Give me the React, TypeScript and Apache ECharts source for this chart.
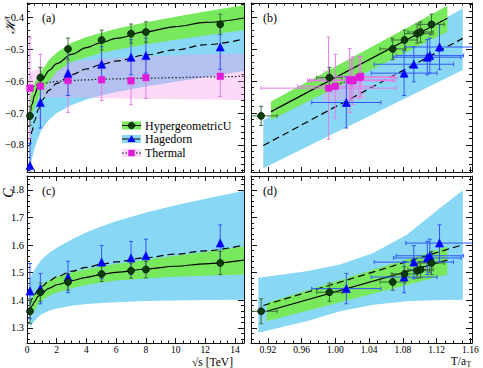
import React, { useEffect, useRef } from "react";
import * as echarts from "echarts";

// ---------------- data ----------------
const sqrtS = [0.2, 0.9, 2.76, 5.02, 7, 8, 13];
const hypH = [-0.709, -0.589, -0.499, -0.471, -0.451, -0.446, -0.422];
const hypHErr = [0.03, 0.032, 0.034, 0.031, 0.03, 0.032, 0.032];
const hagH = [-0.865, -0.667, -0.575, -0.547, -0.525, -0.52, -0.493];
const hagHErr = [0.07, 0.08, 0.07, 0.055, 0.055, 0.055, 0.07];
const thH = [-0.622, -0.616, -0.598, -0.596, -0.599, -0.589, -0.585];
const thHErr = [0.16, 0.1, 0.1, 0.065, 0.075, 0.065, 0.063];

const hypT = [0.912, 0.993, 1.068, 1.082, 1.097, 1.101, 1.114];
const hypTErr = [0.019, 0.015, 0.015, 0.015, 0.015, 0.015, 0.015];
const hagT = [null, 1.013, 1.0815, 1.093, 1.109, 1.112, 1.1235];
const hagTErr = [null, 0.041, 0.039, 0.047, 0.04, 0.04, 0.04];
const thT = [0.992, 1.0, 1.017, 1.019, 1.021, 1.028, 1.03];
const thTErr = [0.08, 0.045, 0.05, 0.05, 0.05, 0.045, 0.04];

const hypC = [1.36, 1.429, 1.466, 1.495, 1.507, 1.511, 1.535];
const hypCErr = [0.045, 0.033, 0.03, 0.027, 0.027, 0.03, 0.042];
const hagC = [1.433, 1.442, 1.484, 1.538, 1.553, 1.561, 1.607];
const hagCErr = [0.1, 0.055, 0.057, 0.06, 0.06, 0.06, 0.066];

// fitted curves / bands (a) and (c)
const cx = [0.2, 0.35, 0.5, 0.75, 1, 1.5, 2, 3, 4, 5, 6, 8, 10, 12, 14.6];
const hypCurveH = [-0.71, -0.672, -0.645, -0.617, -0.595, -0.566, -0.545, -0.516, -0.495, -0.479, -0.466, -0.445, -0.429, -0.416, -0.402];
const hypBandHiH = [-0.655, -0.628, -0.607, -0.584, -0.566, -0.533, -0.51, -0.48, -0.462, -0.448, -0.436, -0.415, -0.398, -0.382, -0.362];
const hypBandLoH = [-0.73, -0.703, -0.682, -0.655, -0.632, -0.6, -0.57, -0.54, -0.525, -0.512, -0.502, -0.485, -0.47, -0.457, -0.44];
const hagCurveH = [-0.8, -0.755, -0.725, -0.69, -0.66, -0.628, -0.607, -0.58, -0.562, -0.548, -0.537, -0.518, -0.502, -0.486, -0.468];
const hagBandHiH = [-0.72, -0.672, -0.643, -0.607, -0.578, -0.545, -0.523, -0.494, -0.475, -0.461, -0.45, -0.432, -0.416, -0.402, -0.385];
const hagBandLoH = [-0.875, -0.84, -0.812, -0.778, -0.75, -0.72, -0.7, -0.675, -0.658, -0.645, -0.634, -0.617, -0.602, -0.588, -0.568];
const thCurveH = [-0.625, -0.619, -0.615, -0.611, -0.608, -0.604, -0.601, -0.598, -0.596, -0.594, -0.593, -0.591, -0.589, -0.587, -0.585];
const thBandHiH = [-0.575, -0.57, -0.567, -0.562, -0.558, -0.552, -0.547, -0.54, -0.535, -0.531, -0.528, -0.523, -0.519, -0.516, -0.513];
const thBandLoH = [-0.655, -0.654, -0.653, -0.652, -0.652, -0.651, -0.651, -0.651, -0.652, -0.653, -0.654, -0.656, -0.657, -0.658, -0.66];

const hypCurveC = [1.36, 1.38, 1.394, 1.414, 1.427, 1.444, 1.456, 1.471, 1.483, 1.493, 1.501, 1.513, 1.523, 1.532, 1.545];
const hypBandHiC = [1.39, 1.41, 1.423, 1.442, 1.455, 1.472, 1.485, 1.5, 1.512, 1.522, 1.531, 1.547, 1.561, 1.575, 1.595];
const hypBandLoC = [1.33, 1.35, 1.364, 1.385, 1.399, 1.416, 1.428, 1.443, 1.455, 1.464, 1.471, 1.479, 1.485, 1.489, 1.493];
const hagCurveC = [1.384, 1.405, 1.42, 1.438, 1.45, 1.47, 1.485, 1.505, 1.519, 1.53, 1.539, 1.554, 1.567, 1.579, 1.6];
const hagBandHiC = [1.475, 1.495, 1.51, 1.53, 1.548, 1.572, 1.59, 1.62, 1.646, 1.667, 1.686, 1.718, 1.744, 1.768, 1.797];
const hagBandLoC = [1.3, 1.315, 1.325, 1.34, 1.35, 1.362, 1.37, 1.38, 1.386, 1.39, 1.393, 1.397, 1.399, 1.401, 1.402];

// linear fits in panels (b) and (d)
const tLineHyp = [0.9237, 1.1328];
const hLineHyp = [-0.6956, -0.403];
const hBandHiHypB = [-0.664, -0.364];
const hBandLoHypB = [-0.722, -0.445];
const tLineHag = [0.9146, 1.151];
const hLineHag = [-0.802, -0.466];
const hBandHiHagB = [-0.722, -0.372];
const hBandLoHagB = [-0.873, -0.565];
const tLineTh = [0.99, 1.031];
const hLineTh = [-0.622, -0.585];
const tBandTh = [0.985, 1.035];
const hBandHiThB = [-0.565, -0.55];
const hBandLoThB = [-0.665, -0.655];

const tLineHypD = [0.9186, 1.1328];
const cLineHyp = [1.36, 1.545];
const cBandHiHypD = [1.39, 1.595];
const cBandLoHypD = [1.324, 1.493];
const cLineHag = [1.381, 1.601];
const tBandHagD = [0.9087, 0.966, 1.0056, 1.045, 1.0847, 1.1242, 1.1511];
const cBandHiHagD = [1.481, 1.505, 1.529, 1.571, 1.637, 1.734, 1.798];
const cBandLoHagD = [1.282, 1.324, 1.36, 1.384, 1.396, 1.401, 1.402];

// ticks
const xMajorS = [0, 2, 4, 6, 8, 10, 12, 14];
const xMajorT = [0.92, 0.96, 1.0, 1.04, 1.08, 1.12, 1.16];
const yMajorH = [-0.8, -0.7, -0.6, -0.5, -0.4];
const yMajorC = [1.3, 1.4, 1.5, 1.6, 1.7, 1.8];

const legendLabels = ["HypergeometricU", "Hagedorn", "Thermal"];
const panelLabels = ["(a)", "(b)", "(c)", "(d)"];
const yTitles = ["\u210B", "C"];
const xTitleS = "\u221As [TeV]";

// --------------- style ---------------
const FONT = "'Liberation Serif', 'DejaVu Serif', serif";
const GREEN_BAND = "#78e85c";
const CYAN_BAND = "#88d7f5";
const PINK_BAND = "rgba(245,160,235,0.4)";
const GREEN_PT = "#0b3d0b";
const GREEN_ERR = "#3d6d3d";
const BLUE_PT = "#0000ff";
const BLUE_ERR = "#3356ff";
const MAG_PT = "#e01cd8";
const MAG_ERR = "#e47ce8";

function range(a: number, b: number, step: number) {
  const out: number[] = [];
  const n = Math.round((b - a) / step);
  for (let i = 0; i <= n; i++) out.push(+(a + i * step).toFixed(6));
  return out;
}
const xMinorS = range(0, 14.5, 0.5);
const xMinorT = range(0.9, 1.16, 0.01);
const yMinorH = range(-0.88, -0.36, 0.02);
const yMinorC = range(1.26, 1.84, 0.02);

function makeAxes(dim: string, grid: number, min: number, max: number, major: number[], minor: number[], showLabels: boolean, fmt: any, fontSize: number, majLen: number, minLen: number, margin: number) {
  const pos = dim === "x" ? ["bottom", "top"] : ["left", "right"];
  const ls = { color: "#111", width: 1 };
  const arr: any[] = [];
  pos.forEach((p, k) => {
    arr.push({
      type: "value", gridIndex: grid, position: p, min, max,
      axisLine: { show: true, onZero: false, lineStyle: ls },
      axisTick: { show: true, inside: true, length: majLen, customValues: major, lineStyle: ls },
      axisLabel: { show: showLabels && k === 0, customValues: major, formatter: fmt, fontFamily: FONT, fontSize, color: "#000", margin },
      splitLine: { show: false },
    });
    arr.push({
      type: "value", gridIndex: grid, position: p, min, max,
      axisLine: { show: false, onZero: false },
      axisTick: { show: true, inside: true, length: minLen, customValues: minor, lineStyle: ls },
      axisLabel: { show: false },
      splitLine: { show: false },
    });
  });
  return arr;
}

function band(gi: number, xs: number[], lo: number[], hi: number[], fill: string, z: number) {
  return {
    type: "custom", xAxisIndex: gi * 4, yAxisIndex: gi * 4, z, silent: true, clip: true,
    data: [[xs[0], lo[0]]],
    renderItem: (params: any, api: any) => {
      const pts: number[][] = [];
      for (let i = 0; i < xs.length; i++) pts.push(api.coord([xs[i], hi[i]]));
      for (let i = xs.length - 1; i >= 0; i--) pts.push(api.coord([xs[i], lo[i]]));
      return { type: "polygon", shape: { points: pts }, style: { fill } };
    },
  };
}

function curve(gi: number, xs: number[], ys: number[], dash: any, z: number, color = "#000") {
  return {
    type: "line", xAxisIndex: gi * 4, yAxisIndex: gi * 4, z, silent: true,
    showSymbol: false, symbol: "none", smooth: 0.35, smoothMonotone: "x", clip: true,
    data: xs.map((x, i) => [x, ys[i]]),
    lineStyle: { color, width: 1.2, type: dash },
  };
}

function errs(gi: number, xs: any[], ys: number[], xe: any[] | null, ye: number[] | null, color: string, z: number) {
  const data: number[][] = [];
  xs.forEach((x, i) => {
    if (x == null || ys[i] == null) return;
    data.push([x, ys[i], xe && xe[i] != null ? xe[i] : 0, ye && ye[i] != null ? ye[i] : 0]);
  });
  return {
    type: "custom", xAxisIndex: gi * 4, yAxisIndex: gi * 4, z, silent: true, clip: true,
    encode: { x: 0, y: 1 },
    data,
    renderItem: (params: any, api: any) => {
      const x = api.value(0), y = api.value(1), ex = api.value(2), ey = api.value(3);
      const c = api.coord([x, y]);
      const st = { stroke: color, lineWidth: 1 };
      const cap = 2;
      const ch: any[] = [];
      if (ey > 0) {
        const t = api.coord([x, y + ey]), b = api.coord([x, y - ey]);
        ch.push({ type: "line", shape: { x1: c[0], y1: t[1], x2: c[0], y2: b[1] }, style: st });
        ch.push({ type: "line", shape: { x1: c[0] - cap, y1: t[1], x2: c[0] + cap, y2: t[1] }, style: st });
        ch.push({ type: "line", shape: { x1: c[0] - cap, y1: b[1], x2: c[0] + cap, y2: b[1] }, style: st });
      }
      if (ex > 0) {
        const l = api.coord([x - ex, y]), r = api.coord([x + ex, y]);
        ch.push({ type: "line", shape: { x1: l[0], y1: c[1], x2: r[0], y2: c[1] }, style: st });
        ch.push({ type: "line", shape: { x1: l[0], y1: c[1] - cap, x2: l[0], y2: c[1] + cap }, style: st });
        ch.push({ type: "line", shape: { x1: r[0], y1: c[1] - cap, x2: r[0], y2: c[1] + cap }, style: st });
      }
      return { type: "group", children: ch };
    },
  };
}

function points(gi: number, xs: any[], ys: number[], symbol: string, size: number, color: string, z: number) {
  const data: number[][] = [];
  xs.forEach((x, i) => { if (x != null && ys[i] != null) data.push([x, ys[i]]); });
  return {
    type: "scatter", xAxisIndex: gi * 4, yAxisIndex: gi * 4, z, silent: true,
    symbol, symbolSize: size, data,
    itemStyle: { color, borderColor: symbol === "circle" ? "#000" : color, borderWidth: 0.6, opacity: 1 },
  };
}

export default function App() {
  const ref = useRef<HTMLDivElement>(null);
  useEffect(() => {
    if (!ref.current) return;
    const chart = echarts.init(ref.current, null, { renderer: "svg" });

    const grids = [
      { left: 27, top: 3, width: 217, height: 169 },
      { left: 251, top: 3, width: 221, height: 169 },
      { left: 27, top: 176, width: 217, height: 167 },
      { left: 251, top: 176, width: 221, height: 167 },
    ];
    const fmtS = (v: number) => String(v);
    const fmtT = (v: number) => v.toFixed(2);
    const fmtY = (v: number) => v.toFixed(1).replace("-", "\u2212");
    const xRangeS = [0, 14.6];
    const xRangeT = [0.9, 1.162];
    const yRangeH = [-0.885, -0.355];
    const yRangeC = [1.245, 1.85];

    const xAxis = [
      ...makeAxes("x", 0, xRangeS[0], xRangeS[1], xMajorS, xMinorS, false, fmtS, 9.5, 5, 2.5, 2),
      ...makeAxes("x", 1, xRangeT[0], xRangeT[1], xMajorT, xMinorT, false, fmtT, 9.5, 5, 2.5, 2),
      ...makeAxes("x", 2, xRangeS[0], xRangeS[1], xMajorS, xMinorS, true, fmtS, 9.5, 5, 2.5, 2),
      ...makeAxes("x", 3, xRangeT[0], xRangeT[1], xMajorT, xMinorT, true, fmtT, 9.5, 5, 2.5, 2),
    ];
    const yAxis = [
      ...makeAxes("y", 0, yRangeH[0], yRangeH[1], yMajorH, yMinorH, true, fmtY, 10.5, 6, 3, 3),
      ...makeAxes("y", 1, yRangeH[0], yRangeH[1], yMajorH, yMinorH, false, fmtY, 10.5, 6, 3, 3),
      ...makeAxes("y", 2, yRangeC[0], yRangeC[1], yMajorC, yMinorC, true, fmtY, 10.5, 6, 3, 3),
      ...makeAxes("y", 3, yRangeC[0], yRangeC[1], yMajorC, yMinorC, false, fmtY, 10.5, 6, 3, 3),
    ];

    const DASH = [7, 4];
    const DOT = [1.5, 2];
    const series: any[] = [
      // panel a
      band(0, cx, hagBandLoH, hagBandHiH, CYAN_BAND, 1),
      band(0, cx, thBandLoH, thBandHiH, PINK_BAND, 2),
      band(0, cx, hypBandLoH, hypBandHiH, GREEN_BAND, 3),
      curve(0, cx, thCurveH, DOT, 4, "#222"),
      curve(0, cx, hagCurveH, DASH, 4),
      curve(0, cx, hypCurveH, "solid", 4),
      errs(0, sqrtS, thH, null, thHErr, MAG_ERR, 5),
      errs(0, sqrtS, hagH, null, hagHErr, BLUE_ERR, 5),
      errs(0, sqrtS, hypH, null, hypHErr, GREEN_ERR, 5),
      points(0, sqrtS, thH, "rect", 6.5, MAG_PT, 6),
      points(0, sqrtS, hagH, "triangle", 8, BLUE_PT, 6),
      points(0, sqrtS, hypH, "circle", 7, GREEN_PT, 6),
      // panel b
      band(1, tLineHag, hBandLoHagB, hBandHiHagB, CYAN_BAND, 1),
      band(1, tBandTh, hBandLoThB, hBandHiThB, PINK_BAND, 2),
      band(1, tLineHyp, hBandLoHypB, hBandHiHypB, GREEN_BAND, 3),
      curve(1, tLineTh, hLineTh, DOT, 4, "#222"),
      curve(1, tLineHag, hLineHag, DASH, 4),
      curve(1, tLineHyp, hLineHyp, "solid", 4),
      errs(1, thT, thH, thTErr, thHErr, MAG_ERR, 5),
      errs(1, hagT, hagH, hagTErr, hagHErr, BLUE_ERR, 5),
      errs(1, hypT, hypH, hypTErr, hypHErr, GREEN_ERR, 5),
      points(1, thT, thH, "rect", 6.5, MAG_PT, 6),
      points(1, hagT, hagH, "triangle", 8, BLUE_PT, 6),
      points(1, hypT, hypH, "circle", 7, GREEN_PT, 6),
      // panel c
      band(2, cx, hagBandLoC, hagBandHiC, CYAN_BAND, 1),
      band(2, cx, hypBandLoC, hypBandHiC, GREEN_BAND, 3),
      curve(2, cx, hagCurveC, DASH, 4),
      curve(2, cx, hypCurveC, "solid", 4),
      errs(2, sqrtS, hagC, null, hagCErr, BLUE_ERR, 5),
      errs(2, sqrtS, hypC, null, hypCErr, GREEN_ERR, 5),
      points(2, sqrtS, hagC, "triangle", 8, BLUE_PT, 6),
      points(2, sqrtS, hypC, "circle", 7, GREEN_PT, 6),
      // panel d
      band(3, tBandHagD, cBandLoHagD, cBandHiHagD, CYAN_BAND, 1),
      band(3, tLineHypD, cBandLoHypD, cBandHiHypD, GREEN_BAND, 3),
      curve(3, tLineHag, cLineHag, DASH, 4),
      curve(3, tLineHypD, cLineHyp, "solid", 4),
      errs(3, hagT, hagC, hagTErr, hagCErr, BLUE_ERR, 5),
      errs(3, hypT, hypC, hypTErr, hypCErr, GREEN_ERR, 5),
      points(3, hagT, hagC, "triangle", 8, BLUE_PT, 6),
      points(3, hypT, hypC, "circle", 7, GREEN_PT, 6),
    ];

    // legend (panel a)
    const legendRows = [
      { fill: GREEN_BAND, dash: "solid", mark: "circle", color: GREEN_PT },
      { fill: CYAN_BAND, dash: DASH, mark: "triangle", color: BLUE_PT },
      { fill: PINK_BAND, dash: DOT, mark: "rect", color: MAG_PT },
    ];
    const rowY = [125.5, 139, 153];
    const graphic: any[] = [];
    legendRows.forEach((r, i) => {
      const yc = rowY[i];
      const x0 = 122, x1 = 141, xm = 131.5;
      graphic.push({ type: "rect", shape: { x: x0, y: yc - 4, width: x1 - x0, height: 8 }, style: { fill: r.fill }, z: 10 });
      graphic.push({ type: "line", shape: { x1: x0, y1: yc, x2: x1, y2: yc }, style: { stroke: "#000", lineWidth: 1, lineDash: r.dash === "solid" ? null : r.dash }, z: 11 });
      if (r.mark === "circle") graphic.push({ type: "circle", shape: { cx: xm, cy: yc, r: 3.3 }, style: { fill: r.color, stroke: "#000", lineWidth: 0.6 }, z: 12 });
      else if (r.mark === "triangle") graphic.push({ type: "polygon", shape: { points: [[xm, yc - 4], [xm + 4, yc + 3], [xm - 4, yc + 3]] }, style: { fill: r.color }, z: 12 });
      else graphic.push({ type: "rect", shape: { x: xm - 3.2, y: yc - 3.2, width: 6.4, height: 6.4 }, style: { fill: r.color }, z: 12 });
      graphic.push({ type: "text", x: 145, y: yc, style: { text: legendLabels[i], fontFamily: FONT, fontSize: 12, fill: "#000", verticalAlign: "middle", align: "left" }, z: 12 });
    });
    // panel labels
    const labelPos = [[42, 17.5], [263, 17.5], [42, 190.5], [263, 190.5]];
    panelLabels.forEach((t, i) => {
      graphic.push({ type: "text", x: labelPos[i][0], y: labelPos[i][1], style: { text: t, fontFamily: FONT, fontSize: 12, fill: "#000", verticalAlign: "middle", align: "left" }, z: 12 });
    });
    // axis titles
    graphic.push({ type: "text", x: 10, y: 26, rotation: Math.PI / 2, style: { text: yTitles[0], fontFamily: FONT, fontStyle: "italic", fontSize: 14, fill: "#000", align: "center", verticalAlign: "middle" }, z: 12 });
    graphic.push({ type: "text", x: 8, y: 193, rotation: Math.PI / 2, style: { text: yTitles[1], fontFamily: FONT, fontStyle: "italic", fontSize: 14, fill: "#000", align: "center", verticalAlign: "middle" }, z: 12 });
    graphic.push({ type: "text", x: 233, y: 361.5, style: { text: xTitleS, fontFamily: FONT, fontSize: 11.5, fill: "#000", align: "right", verticalAlign: "middle" }, z: 12 });
    graphic.push({ type: "text", x: 466, y: 360.5, style: { text: "T/a", fontFamily: FONT, fontSize: 11.5, fill: "#000", align: "right", verticalAlign: "middle" }, z: 12 });
    graphic.push({ type: "text", x: 466.5, y: 364.5, style: { text: "T", fontFamily: FONT, fontSize: 7.5, fill: "#000", align: "left", verticalAlign: "middle" }, z: 12 });

    chart.setOption({ animation: false, grid: grids, xAxis, yAxis, series, graphic });
    return () => chart.dispose();
  }, []);
  return <div ref={ref} style={{ position: "absolute", left: 0, top: 0, width: 483, height: 368, background: "#fff" }} />;
}
